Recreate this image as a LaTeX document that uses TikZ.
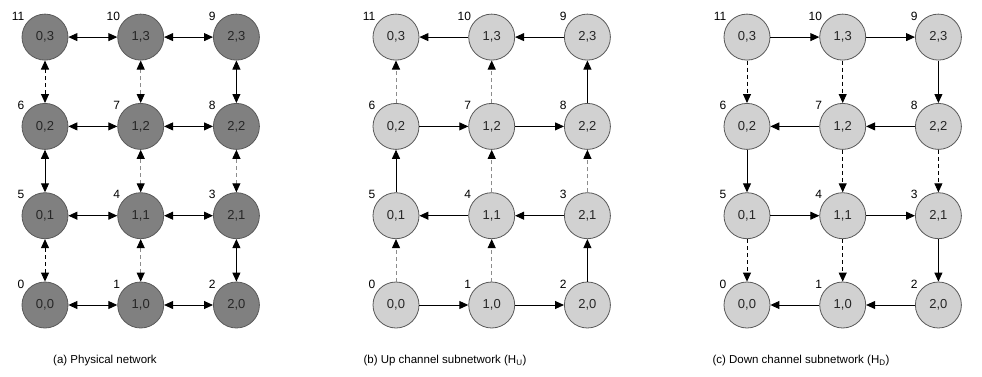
\documentclass[tikz,border=0pt]{standalone}
\usepackage{fontspec}
\setmainfont{Liberation Sans}
\usetikzlibrary{arrows.meta}

\begin{document}
\begin{tikzpicture}[
    x=1pt, y=1pt,
    >={Triangle[length=9pt, width=8pt, color=black]},
    every edge/.style={draw, line width=0.9pt},
    dashline/.style={dash pattern=on 4pt off 3pt},
    greyline/.style={dashline, draw=black!45},
    mesh/.style={circle, draw=black!65, line width=0.8pt, minimum size=46pt, inner sep=0pt, text=black!85, font=\fontsize{13}{15}\selectfont},
    idx/.style={inner sep=0pt, xshift=-4pt, font=\fontsize{12}{14}\selectfont},
    caption/.style={font=\fontsize{11.5}{13}\selectfont}]

    \useasboundingbox (0,0) rectangle (982,376);

    %%% The three 3x4 meshes
    \foreach \p/\sx/\fc in {a/45/black!50, b/396/black!18, c/747/black!18}
      \foreach \i in {0,...,2}
        \foreach \j in {0,...,3} {
          \pgfmathtruncatemacro{\id}{mod(\j,2)==1 ? 3*\j+2-\i : 3*\j+\i}
          \node[mesh, fill=\fc, label={[idx]135:\id}] (\p\i\j) at (\sx+95.7*\i, 71+89.3*\j) {\i,\j};
        }

    %%% (a) physical network
    \foreach \j in {0,...,3}
      \path (a0\j) edge [<->] (a1\j) (a1\j) edge [<->] (a2\j);
    \path (a00) edge [<->, dashline] (a01)
          (a01) edge [<->] (a02)
          (a02) edge [<->, dashline] (a03);
    \path (a10) edge [<->, greyline] (a11)
          (a11) edge [<->, greyline] (a12)
          (a12) edge [<->, greyline] (a13);
    \path (a20) edge [<->] (a21)
          (a21) edge [<->, greyline] (a22)
          (a22) edge [<->] (a23);

    %%% (b) up channel
    \path (b00) edge [->] (b10) (b10) edge [->] (b20);
    \path (b21) edge [->] (b11) (b11) edge [->] (b01);
    \path (b02) edge [->] (b12) (b12) edge [->] (b22);
    \path (b23) edge [->] (b13) (b13) edge [->] (b03);
    \path (b00) edge [->, greyline] (b01)
          (b01) edge [->] (b02)
          (b02) edge [->, greyline] (b03);
    \path (b10) edge [->, greyline] (b11)
          (b11) edge [->, greyline] (b12)
          (b12) edge [->, greyline] (b13);
    \path (b20) edge [->] (b21)
          (b21) edge [->, greyline] (b22)
          (b22) edge [->] (b23);

    %%% (c) down channel
    \path (c03) edge [->] (c13) (c13) edge [->] (c23);
    \path (c22) edge [->] (c12) (c12) edge [->] (c02);
    \path (c01) edge [->] (c11) (c11) edge [->] (c21);
    \path (c20) edge [->] (c10) (c10) edge [->] (c00);
    \path (c03) edge [->, dashline] (c02)
          (c02) edge [->] (c01)
          (c01) edge [->, dashline] (c00);
    \path (c13) edge [->, dashline] (c12)
          (c12) edge [->, dashline] (c11)
          (c11) edge [->, dashline] (c10);
    \path (c23) edge [->] (c22)
          (c22) edge [->, dashline] (c21)
          (c21) edge [->] (c20);

    %%% captions
    \node[caption] (capa) at (105,15) {(a) Physical network};
    \node[caption] (capb) at (445,15) {(b) Up channel subnetwork (H\textsubscript{U})};
    \node[caption] (capc) at (801,15) {(c) Down channel subnetwork (H\textsubscript{D})};

\end{tikzpicture}
\end{document}
